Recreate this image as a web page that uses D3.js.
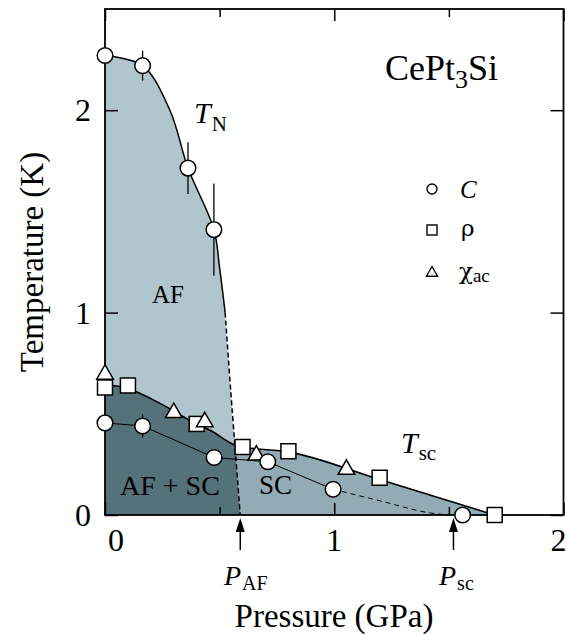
<!DOCTYPE html>
<html><head><meta charset="utf-8">
<script src="https://cdn.jsdelivr.net/npm/d3@7"></script>
<style>
html,body{margin:0;padding:0;background:#fff;}
svg text{font-family:"Liberation Serif","Times New Roman",serif;fill:#000;}
</style></head>
<body>
<svg id="chart" width="567" height="634"></svg>
<script>
// ---------- data (pressure GPa, temperature K) ----------
const xTicksMajor = [0, 1, 2];
const xTicksMinor = [0.5, 1.5];
const yTicks = [0, 1, 2];

// specific heat C (circles)
const circleP = [0.0, 0.164, 0.362, 0.475, 0.0, 0.164, 0.476, 0.71, 0.995, 1.56];
const circleT = [2.27, 2.22, 1.714, 1.41, 0.455, 0.44, 0.284, 0.263, 0.127, 0.0];
const circleErr = [0, 0.074, 0.128, 0.228, 0, 0.057, 0, 0, 0, 0];
// resistivity rho (squares)
const squareP = [0.0, 0.10, 0.40, 0.60, 0.80, 1.198, 1.70];
const squareT = [0.63, 0.64, 0.45, 0.336, 0.315, 0.184, 0.0];
// ac susceptibility chi_ac (triangles)
const triP = [0.0, 0.30, 0.435, 0.66, 1.053];
const triT = [0.70, 0.51, 0.465, 0.30, 0.23];

// T_N boundary (solid, then dashed down to P_AF)
const tnP = [0.0, 0.164, 0.283, 0.362, 0.475, 0.50, 0.524];
const tnT = [2.27, 2.22, 2.0, 1.714, 1.41, 1.22, 1.0];
const tnDashP = [0.524, 0.548, 0.59];
const tnDashT = [1.0, 0.62, 0.0];
// T_sc boundary (upper, thick)
const tscP = [0.0, 0.10, 0.20, 0.27, 0.356, 0.472, 0.559, 0.60, 0.80, 1.198, 1.70];
const tscT = [0.645, 0.625, 0.575, 0.533, 0.476, 0.41, 0.35, 0.336, 0.312, 0.175, 0.0];
// lower line through C points (solid then dashed)
const lowP = [0.0, 0.164, 0.476, 0.71, 0.995];
const lowT = [0.455, 0.44, 0.284, 0.263, 0.127];
const lowDashP = [0.995, 1.2, 1.42, 1.50];
const lowDashT = [0.127, 0.07, 0.01, 0.0];

const P_AF = 0.59, P_SC = 1.52;

// ---------- layout ----------
const svg = d3.select("#chart");
const x = d3.scaleLinear().domain([0, 2]).range([105, 563.5]);
const y = d3.scaleLinear().domain([0, 2.5]).range([515, 9]);
const zip = (a, b) => a.map((v, i) => [v, b[i]]);

const cLight = "#b1c5ce", cDark = "#55717a", cMed = "#93abb4";

const curveLine = d3.line().x(d => x(d[0])).y(d => y(d[1])).curve(d3.curveCatmullRom.alpha(0.5));
const monoLine = d3.line().x(d => x(d[0])).y(d => y(d[1])).curve(d3.curveMonotoneX);
const polyLine = d3.line().x(d => x(d[0])).y(d => y(d[1]));

const tnPts = zip(tnP, tnT), tnDash = zip(tnDashP, tnDashT);
const tscPts = zip(tscP, tscT);

// AF region polygon
const afD = curveLine(tnPts) + curveLine(tnDash).replace(/^M/, "L") +
  "L" + x(0) + "," + y(0) + "Z";
const defs = svg.append("defs");
defs.append("clipPath").attr("id", "afclip").append("path").attr("d", afD);

svg.append("path").attr("d", afD).attr("fill", cLight);

const tscArea = d3.area().x(d => x(d[0])).y0(y(0)).y1(d => y(d[1])).curve(d3.curveMonotoneX);
svg.append("path").datum(tscPts).attr("d", tscArea).attr("fill", cMed);
svg.append("path").datum(tscPts).attr("d", tscArea).attr("fill", cDark).attr("clip-path", "url(#afclip)");

// boundary lines
svg.append("path").attr("d", curveLine(tnPts)).attr("fill", "none").attr("stroke", "#000").attr("stroke-width", 1.5);
svg.append("path").attr("d", curveLine(tnDash)).attr("fill", "none").attr("stroke", "#000").attr("stroke-width", 1.5).attr("stroke-dasharray", "5,3");
svg.append("path").datum(tscPts).attr("d", monoLine).attr("fill", "none").attr("stroke", "#000").attr("stroke-width", 1.6);
svg.append("path").datum(zip(lowP, lowT)).attr("d", polyLine).attr("fill", "none").attr("stroke", "#000").attr("stroke-width", 1);
svg.append("path").datum(zip(lowDashP, lowDashT)).attr("d", monoLine).attr("fill", "none").attr("stroke", "#000").attr("stroke-width", 1).attr("stroke-dasharray", "5,4");

// axes frame
const g = svg.append("g");
g.append("rect").attr("x", x(0)).attr("y", y(2.5)).attr("width", x(2) - x(0)).attr("height", y(0) - y(2.5))
  .attr("fill", "none").attr("stroke", "#000").attr("stroke-width", 1.8);

const axB = d3.axisBottom(x).tickValues(xTicksMajor).tickSize(-12).tickFormat("").tickSizeOuter(0);
const axT = d3.axisTop(x).tickValues(xTicksMajor).tickSize(-12).tickFormat("").tickSizeOuter(0);
const axBm = d3.axisBottom(x).tickValues(xTicksMinor).tickSize(-8).tickFormat("").tickSizeOuter(0);
const axTm = d3.axisTop(x).tickValues(xTicksMinor).tickSize(-8).tickFormat("").tickSizeOuter(0);
const axL = d3.axisLeft(y).tickValues(yTicks).tickSize(-13).tickFormat("").tickSizeOuter(0);
const axR = d3.axisRight(y).tickValues(yTicks).tickSize(-13).tickFormat("").tickSizeOuter(0);
function styleAx(sel) { sel.select(".domain").remove(); sel.selectAll("line").attr("stroke", "#000").attr("stroke-width", 1.5); }
g.append("g").attr("transform", `translate(0,${y(0)})`).call(axB).call(styleAx);
g.append("g").attr("transform", `translate(0,${y(0)})`).call(axBm).call(styleAx);
g.append("g").attr("transform", `translate(0,${y(2.5)})`).call(axT).call(styleAx);
g.append("g").attr("transform", `translate(0,${y(2.5)})`).call(axTm).call(styleAx);
g.append("g").attr("transform", `translate(${x(0)},0)`).call(axL).call(styleAx);
g.append("g").attr("transform", `translate(${x(2)},0)`).call(axR).call(styleAx);

// tick labels
yTicks.forEach(t => {
  svg.append("text").attr("x", 91).attr("y", y(t) + 11).attr("text-anchor", "end").attr("font-size", 32).text(t);
});
xTicksMajor.forEach(t => {
  const xx = t === 0 ? x(0) + 11 : (t === 2 ? x(t) - 5 : x(t));
  svg.append("text").attr("x", xx).attr("y", 551).attr("text-anchor", "middle").attr("font-size", 32).text(t);
});

// axis titles
svg.append("text").attr("x", 334).attr("y", 627).attr("text-anchor", "middle").attr("font-size", 33).text("Pressure (GPa)");
svg.append("text").attr("transform", `translate(43,${(y(0) + y(2.5)) / 2}) rotate(-90)`)
  .attr("text-anchor", "middle").attr("font-size", 33).text("Temperature (K)");

// error bars
const errG = svg.append("g");
circleP.forEach((p, i) => {
  if (circleErr[i] > 0) {
    errG.append("line").attr("x1", x(p)).attr("x2", x(p))
      .attr("y1", y(circleT[i] - circleErr[i])).attr("y2", y(circleT[i] + circleErr[i]))
      .attr("stroke", "#000").attr("stroke-width", 1.3);
  }
});

// markers
const mk = svg.append("g").attr("fill", "#fff").attr("stroke", "#000").attr("stroke-width", 1.5);
const sq = 15;
squareP.forEach((p, i) => {
  mk.append("rect").attr("x", x(p) - sq / 2).attr("y", y(squareT[i]) - sq / 2).attr("width", sq).attr("height", sq);
});
const triSym = d3.symbol().type(d3.symbolTriangle).size(120);
triP.forEach((p, i) => {
  mk.append("path").attr("d", triSym()).attr("transform", `translate(${x(p)},${y(triT[i]) + 1})`);
});
circleP.forEach((p, i) => {
  mk.append("circle").attr("cx", x(p)).attr("cy", y(circleT[i])).attr("r", 7.8);
});

// legend
const lg = svg.append("g");
lg.append("circle").attr("cx", 432).attr("cy", 189).attr("r", 5).attr("fill", "#fff").attr("stroke", "#000").attr("stroke-width", 1.4);
lg.append("rect").attr("x", 427).attr("y", 225).attr("width", 10).attr("height", 10).attr("fill", "#fff").attr("stroke", "#000").attr("stroke-width", 1.4);
lg.append("path").attr("d", d3.symbol().type(d3.symbolTriangle).size(55)()).attr("transform", "translate(432,273)")
  .attr("fill", "#fff").attr("stroke", "#000").attr("stroke-width", 1.3);
lg.append("text").attr("x", 460).attr("y", 198).attr("font-size", 25).attr("font-style", "italic").text("C");
lg.append("text").attr("x", 461).attr("y", 236).attr("font-size", 23).style("font-family", "'DejaVu Serif',serif").text("ρ");
const chi = lg.append("text").attr("x", 459).attr("y", 279).attr("font-size", 23);
chi.append("tspan").style("font-family", "'DejaVu Serif',serif").text("χ");
chi.append("tspan").attr("font-size", 19).attr("dy", 3).text("ac");

// title
const title = svg.append("text").attr("x", 385).attr("y", 80).attr("font-size", 36);
title.append("tspan").text("CePt");
title.append("tspan").attr("font-size", 26).attr("dy", 8).text("3");
title.append("tspan").attr("dy", -8).text("Si");

// region labels
svg.append("text").attr("x", 152).attr("y", 303).attr("font-size", 25).text("AF");
svg.append("text").attr("x", 120).attr("y", 495).attr("font-size", 28).text("AF + SC");
svg.append("text").attr("x", 259).attr("y", 494).attr("font-size", 27).text("SC");

function subLabel(xx, yy, main, sub, fs, sfs, dy) {
  const t = svg.append("text").attr("x", xx).attr("y", yy).attr("font-size", fs);
  t.append("tspan").attr("font-style", "italic").text(main);
  t.append("tspan").attr("font-size", sfs).attr("dy", dy).attr("dx", 1).text(sub);
}
subLabel(194, 123, "T", "N", 30, 21, 8);
subLabel(401, 453, "T", "sc", 30, 21, 7);
subLabel(224, 585, "P", "AF", 28, 20, 5);
subLabel(439, 585, "P", "sc", 28, 20, 5);

// arrows
function arrow(p) {
  const xx = x(p);
  svg.append("line").attr("x1", xx).attr("x2", xx).attr("y1", 550).attr("y2", 528).attr("stroke", "#000").attr("stroke-width", 1.5);
  svg.append("path").attr("d", `M${xx},518 L${xx - 4.5},532 L${xx + 4.5},532 Z`).attr("fill", "#000");
}
arrow(P_AF);
arrow(P_SC);
</script>
</body></html>
